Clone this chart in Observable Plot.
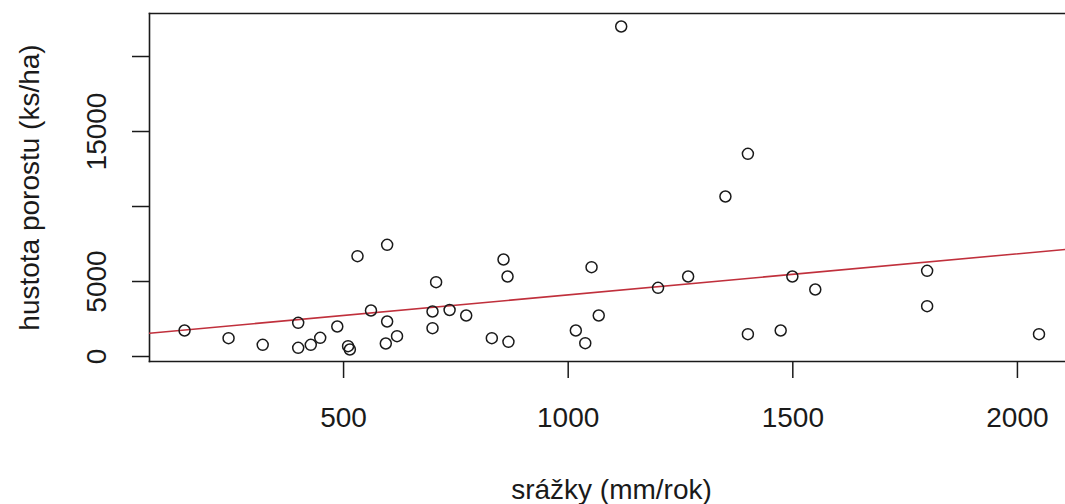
<!DOCTYPE html>
<html>
<head>
<meta charset="utf-8">
<script src="https://cdn.jsdelivr.net/npm/d3@7"></script>
<script src="https://cdn.jsdelivr.net/npm/@observablehq/plot@0.6"></script>
<style>
  html, body { margin: 0; padding: 0; background: #fff; overflow: hidden; }
  #chart svg { display: block; }
</style>
</head>
<body>
<div id="chart"></div>
<script>
// precipitation (mm/year)
const srazky = [146, 244, 320, 399, 399, 427, 448, 486, 510, 514, 531, 561, 597, 597, 594, 619,
  706, 698, 698, 736, 773, 856, 865, 830, 867, 1052, 1068, 1017, 1038, 1200, 1267,
  1400, 1473, 1499, 1550, 1799, 1799, 2048, 1118, 1400, 1350];
// stand density (ks/ha)
const hustota = [1733, 1222, 778, 2244, 578, 778, 1244, 2000, 689, 467, 6689, 3067, 7444, 2333, 867, 1356,
  4956, 3000, 1889, 3100, 2733, 6467, 5333, 1222, 978, 5956, 2733, 1733, 889, 4578, 5333,
  1489, 1733, 5333, 4467, 5711, 3356, 1489, 22000, 13511, 10667];
// fitted regression line (abline): intercept, slope
const fitIntercept = 1367;
const fitSlope = 2.74;

const xTicks = [500, 1000, 1500, 2000];
const yTicks = [0, 5000, 10000, 15000, 20000];
const yLabelTicks = [0, 5000, 15000];
const xDomain = [68, 2107];
const yDomain = [-333, 22867];
const xTitle = "srážky (mm/rok)";
const yTitle = "hustota porostu (ks/ha)";

const points = srazky.map((x, i) => ({x, y: hustota[i]}));
const fitLine = xDomain.map(x => ({x, y: fitIntercept + fitSlope * x}));

const ink = "#1a1a1a";
const chart = Plot.plot({
  width: 1065,
  height: 504,
  marginLeft: 149,
  marginRight: 0,
  marginTop: 13,
  marginBottom: 143,
  style: {fontFamily: "'Liberation Sans', Arial, sans-serif", fontSize: "28px", color: ink, background: "#fff"},
  x: {domain: xDomain, label: null},
  y: {domain: yDomain, label: null},
  marks: [
    Plot.frame({anchor: "top", stroke: ink, strokeWidth: 1.6}),
    Plot.frame({anchor: "left", stroke: ink, strokeWidth: 1.6}),
    Plot.frame({anchor: "bottom", stroke: ink, strokeWidth: 1.6}),
    Plot.axisX({ticks: xTicks, tickSize: 17, tickPadding: 29, tickFormat: d => String(d), fontSize: 28, stroke: ink, strokeWidth: 1.5, fill: ink}),
    Plot.axisY({ticks: yTicks, tickSize: 17, tickFormat: () => "", stroke: ink, strokeWidth: 1.5}),
    Plot.text(yLabelTicks, {y: d => d, text: d => String(d), frameAnchor: "left", rotate: -90, textAnchor: "middle", lineAnchor: "bottom", dx: -44, fontSize: 28, fill: ink}),
    Plot.text([xTitle], {text: d => d, frameAnchor: "bottom", lineAnchor: "bottom", dy: 137, dx: 4, fontSize: 28, fill: ink}),
    Plot.text([yTitle], {text: d => d, frameAnchor: "left", rotate: -90, textAnchor: "middle", lineAnchor: "bottom", dx: -111, fontSize: 28, fill: ink}),
    Plot.line(fitLine, {x: "x", y: "y", stroke: "#c0303c", strokeWidth: 1.6, clip: true}),
    Plot.dot(points, {x: "x", y: "y", r: 5.5, stroke: ink, strokeWidth: 1.5, fill: "none"})
  ]
});
document.getElementById("chart").appendChild(chart);
</script>
</body>
</html>
